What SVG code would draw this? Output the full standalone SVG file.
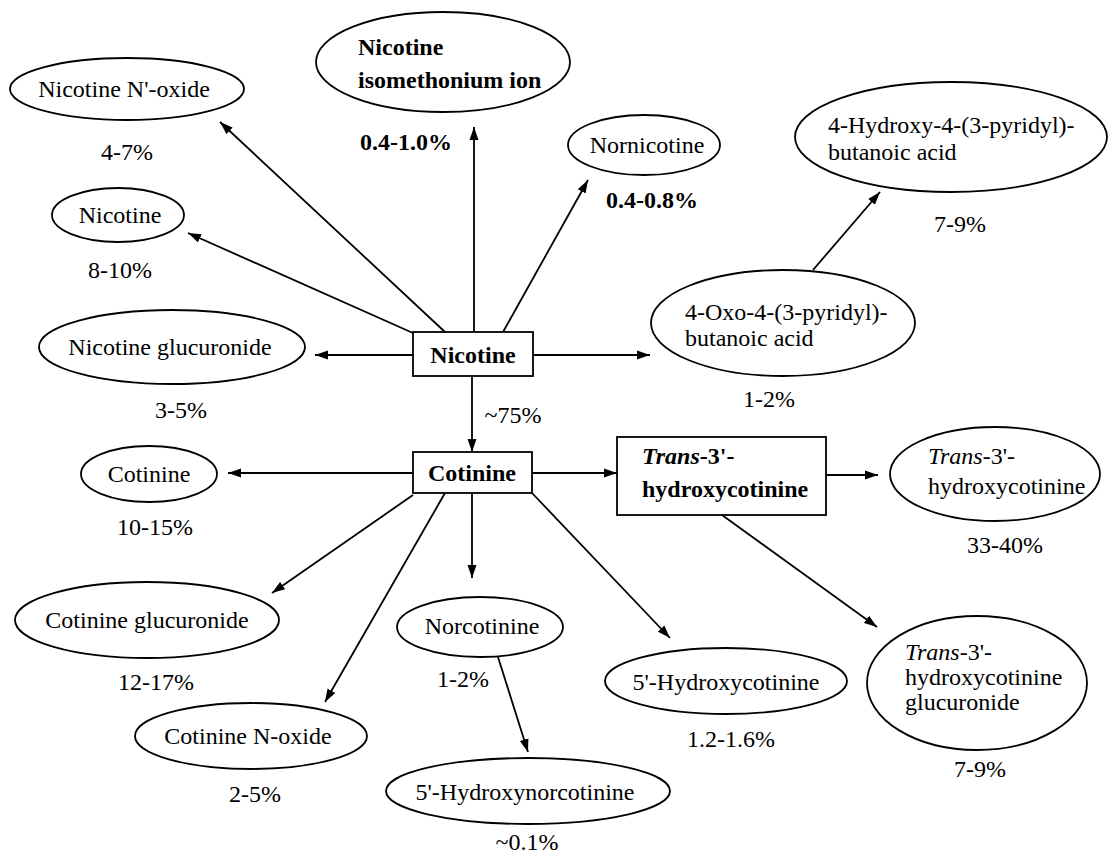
<svg xmlns="http://www.w3.org/2000/svg" width="1108" height="855" viewBox="0 0 1108 855" font-family="Liberation Serif, DejaVu Serif, Times New Roman, serif">
<style>
text{font-family:'Liberation Serif','DejaVu Serif','Times New Roman',Times,serif;font-size:24px;fill:#000}
.m{text-anchor:middle}
.b{font-weight:bold}
.i{font-style:italic}
ellipse,rect{fill:#fff;stroke:#000;stroke-width:1.8}
.c line{stroke:#000;stroke-width:1.8;marker-end:url(#ah)}
</style>
<defs>
<marker id="ah" markerUnits="userSpaceOnUse" markerWidth="14" markerHeight="10" refX="13" refY="5" orient="auto">
<path d="M0,0.5 L13,5 L0,9.5 z" fill="#000"/>
</marker>
</defs>
<rect x="0" y="0" width="1108" height="855" style="fill:#fff;stroke:none"/>
<g class="c" id="connectors">
<line x1="445" y1="332" x2="220" y2="122"/>
<line x1="413" y1="333" x2="188" y2="233"/>
<line x1="474" y1="332" x2="474" y2="127"/>
<line x1="503" y1="332" x2="588" y2="180"/>
<line x1="413" y1="355" x2="315" y2="355"/>
<line x1="533" y1="355" x2="650" y2="355"/>
<line x1="472" y1="376" x2="472" y2="452"/>
<line x1="813" y1="270" x2="880" y2="192"/>
<line x1="413" y1="473" x2="228" y2="473"/>
<line x1="532" y1="473" x2="617" y2="473"/>
<line x1="826" y1="475" x2="878" y2="475"/>
<line x1="413" y1="495" x2="272" y2="593"/>
<line x1="445" y1="493" x2="325" y2="702"/>
<line x1="472" y1="493" x2="472" y2="578"/>
<line x1="532" y1="493" x2="670" y2="638"/>
<line x1="722" y1="515" x2="877" y2="627"/>
<line x1="498" y1="657" x2="528" y2="752"/>
</g>
<g id="nicotine-n-oxide"><ellipse cx="127" cy="89" rx="117" ry="31"/><text class="m" x="124" y="97">Nicotine N'-oxide</text><text class="m" x="127" y="160">4-7%</text></g>
<g id="nicotine-small"><ellipse cx="118" cy="215" rx="66" ry="27"/><text class="m" x="120" y="223">Nicotine</text><text class="m" x="120" y="278">8-10%</text></g>
<g id="isomethonium"><ellipse cx="443" cy="62" rx="127" ry="50"/><text class="b" x="358" y="55">Nicotine</text><text class="b" x="358" y="88">isomethonium ion</text><text class="b" x="360" y="150">0.4-1.0%</text></g>
<g id="nornicotine"><ellipse cx="644" cy="145" rx="76" ry="30"/><text class="m" x="647" y="153">Nornicotine</text><text class="m b" x="652" y="208">0.4-0.8%</text></g>
<g id="hydroxy-acid"><ellipse cx="951" cy="137" rx="156" ry="55"/><text x="828" y="133">4-Hydroxy-4-(3-pyridyl)-</text><text x="828" y="160">butanoic acid</text><text class="m" x="960" y="232">7-9%</text></g>
<g id="oxo-acid"><ellipse cx="783" cy="323" rx="132" ry="53"/><text x="685" y="320">4-Oxo-4-(3-pyridyl)-</text><text x="685" y="346">butanoic acid</text><text class="m" x="769" y="407">1-2%</text></g>
<g id="nicotine-box"><rect x="413" y="332" width="120" height="44"/><text class="m b" x="473" y="363">Nicotine</text></g>
<g id="nicotine-glucuronide"><ellipse cx="172" cy="347" rx="133" ry="37"/><text class="m" x="170" y="355">Nicotine glucuronide</text><text class="m" x="181" y="418">3-5%</text></g>
<g id="label-75"><text class="m" x="513" y="423">~75%</text></g>
<g id="cotinine-box"><rect x="413" y="452" width="119" height="41"/><text class="m b" x="472" y="481">Cotinine</text></g>
<g id="cotinine"><ellipse cx="149" cy="474" rx="68" ry="28"/><text class="m" x="149" y="482">Cotinine</text><text class="m" x="155" y="535">10-15%</text></g>
<g id="trans-box"><rect x="617" y="437" width="209" height="78"/><text class="b" x="642" y="464"><tspan class="i">Trans</tspan>-3'-</text><text class="b" x="642" y="497">hydroxycotinine</text></g>
<g id="trans-hydroxycotinine"><ellipse cx="995" cy="474" rx="105" ry="47"/><text x="928" y="464"><tspan class="i">Trans</tspan>-3'-</text><text x="928" y="494">hydroxycotinine</text><text class="m" x="1005" y="553">33-40%</text></g>
<g id="cotinine-glucuronide"><ellipse cx="147" cy="620" rx="132" ry="38"/><text class="m" x="147" y="628">Cotinine glucuronide</text><text class="m" x="156" y="690">12-17%</text></g>
<g id="norcotinine"><ellipse cx="480" cy="627" rx="83" ry="30"/><text class="m" x="482" y="634">Norcotinine</text><text class="m" x="463" y="687">1-2%</text></g>
<g id="hydroxycotinine-5"><ellipse cx="726" cy="681" rx="121" ry="33"/><text class="m" x="726" y="690">5'-Hydroxycotinine</text><text class="m" x="731" y="747">1.2-1.6%</text></g>
<g id="trans-glucuronide"><ellipse cx="977" cy="683" rx="110" ry="67"/><text x="905" y="660"><tspan class="i">Trans</tspan>-3'-</text><text x="905" y="685">hydroxycotinine</text><text x="905" y="710">glucuronide</text><text class="m" x="980" y="777">7-9%</text></g>
<g id="cotinine-n-oxide"><ellipse cx="251" cy="736" rx="116" ry="33"/><text class="m" x="248" y="744">Cotinine N-oxide</text><text class="m" x="255" y="802">2-5%</text></g>
<g id="hydroxynorcotinine"><ellipse cx="528" cy="791" rx="142" ry="33"/><text class="m" x="525" y="800">5'-Hydroxynorcotinine</text><text class="m" x="527" y="850">~0.1%</text></g>
</svg>
